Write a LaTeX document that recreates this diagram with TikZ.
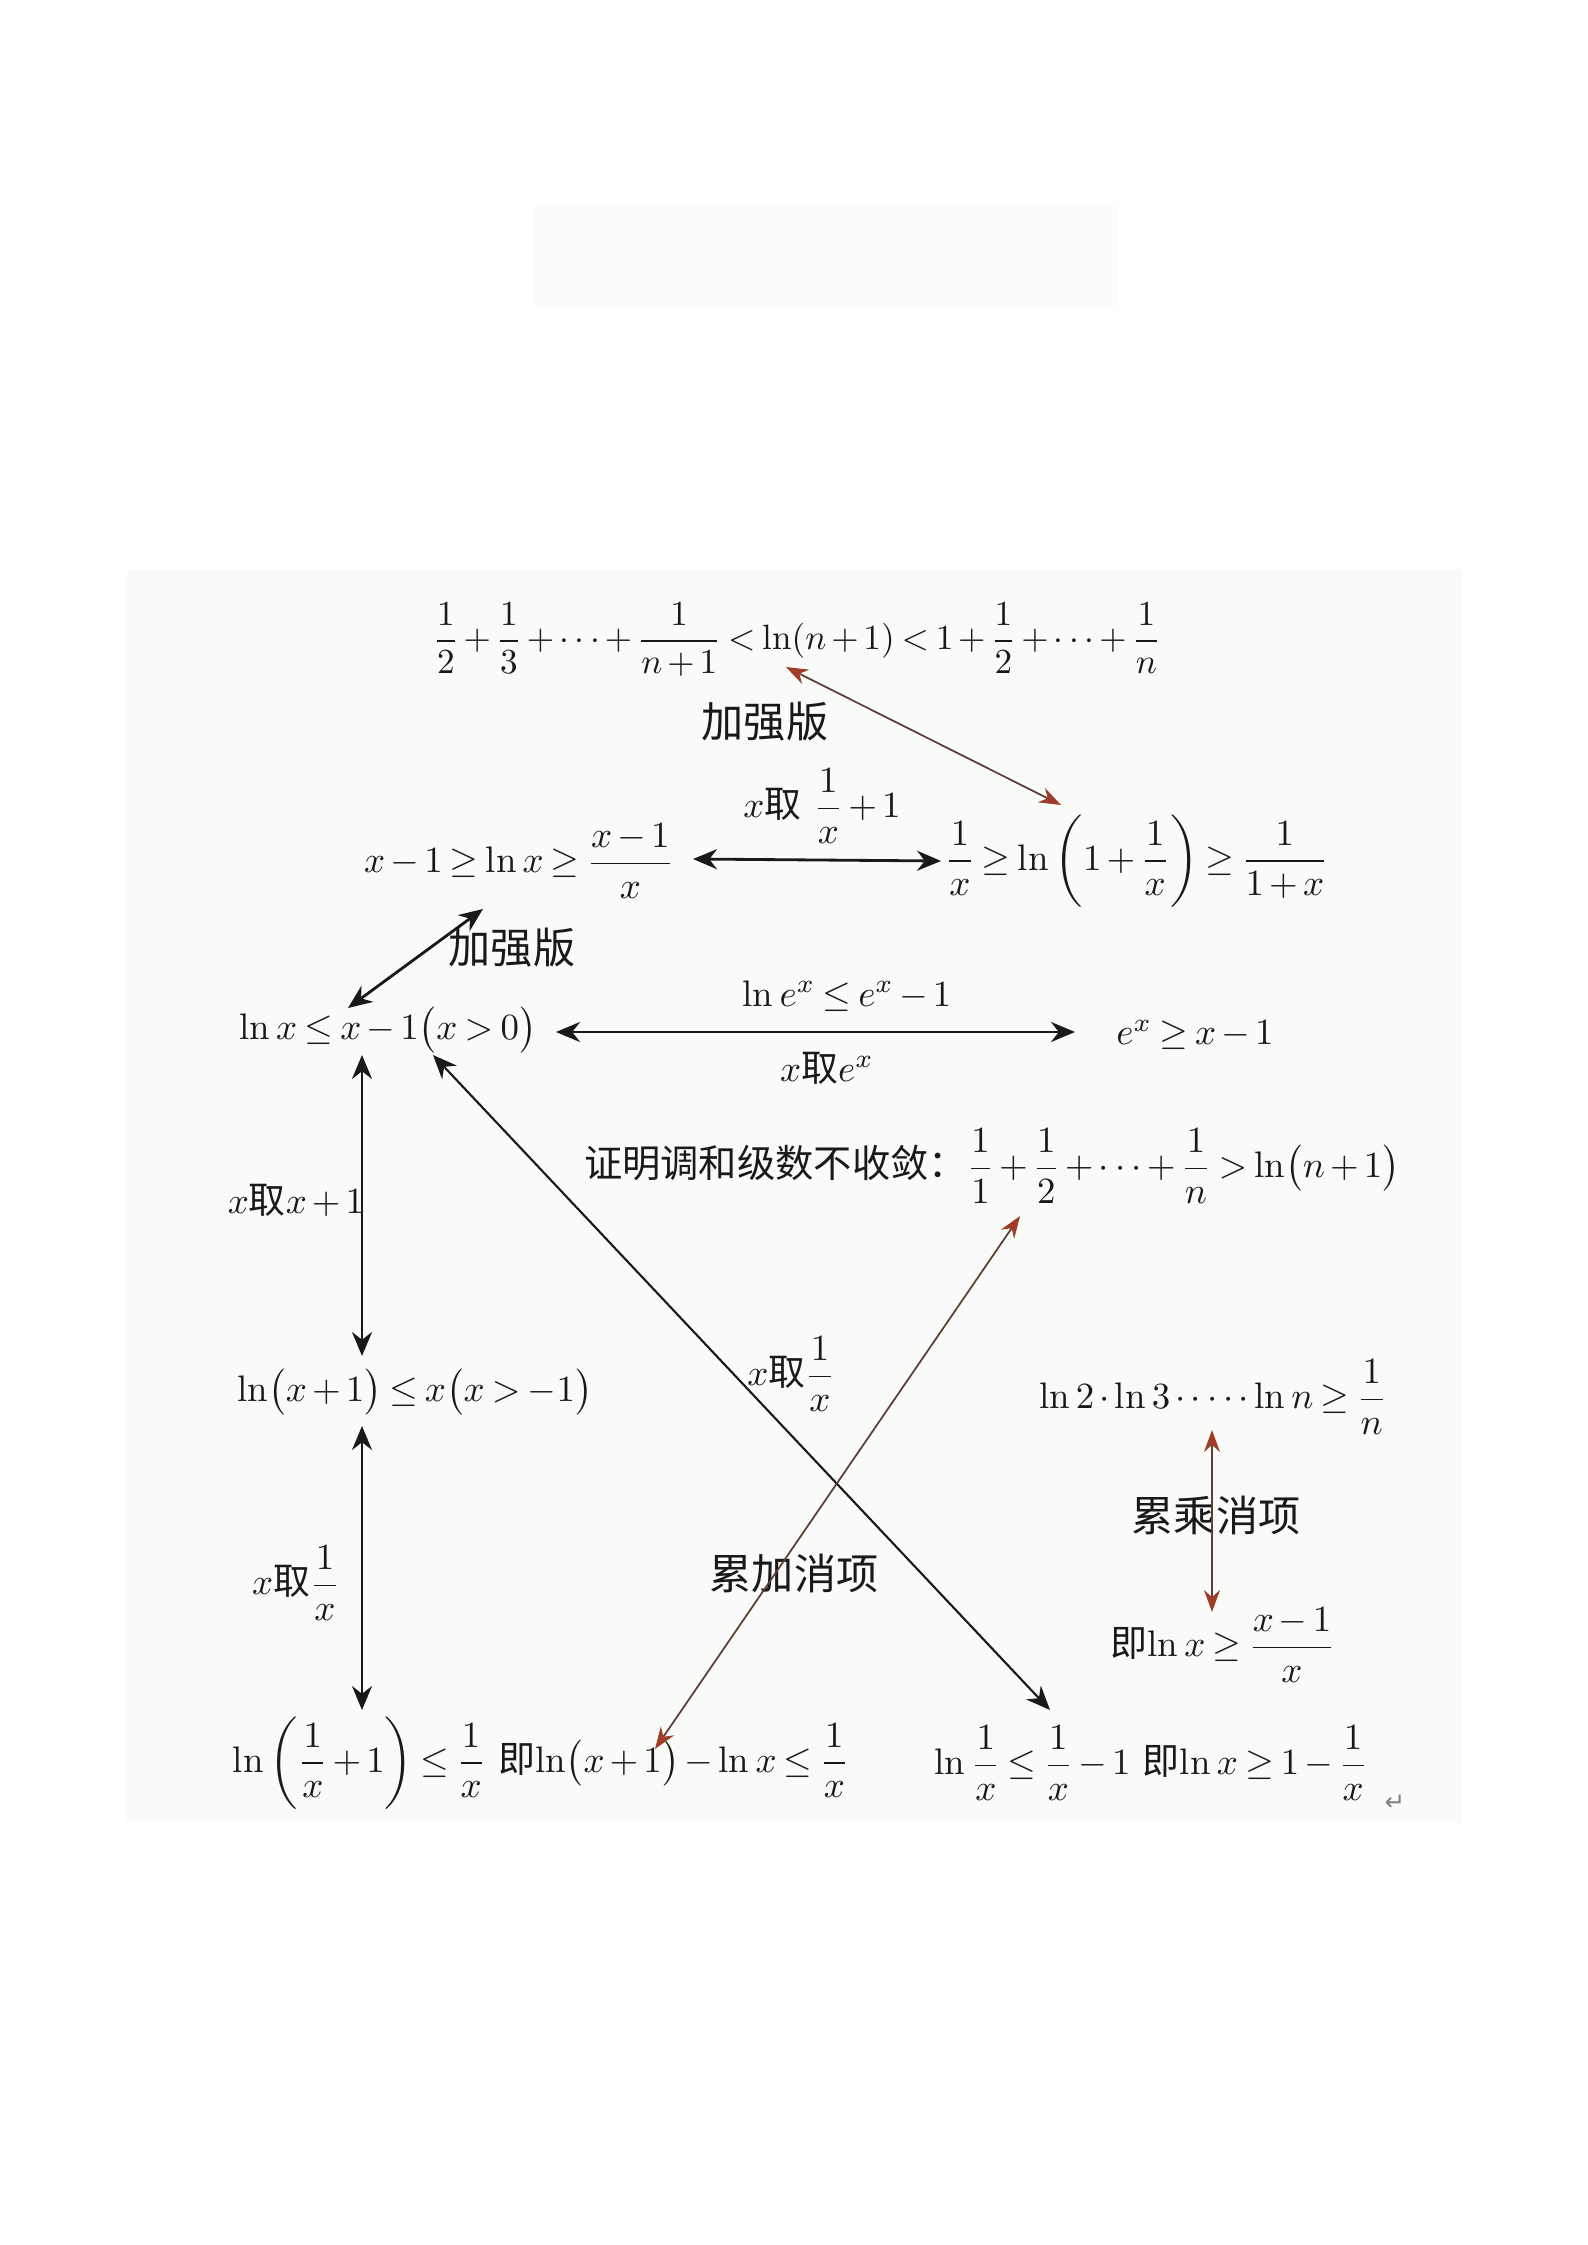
\RequirePackage{fix-cm}
\documentclass[tikz,border=0pt]{standalone}
\usepackage{fontspec}
\usepackage{amsmath}
\newfontfamily\cjk{Noto Sans CJK SC}
\newfontfamily\dejavu{DejaVu Sans}
\usetikzlibrary{arrows.meta,calc}
\definecolor{arrowred}{RGB}{160,60,42}
\definecolor{arrowline}{RGB}{95,62,56}
\definecolor{pagebg}{RGB}{249,251,248}
\definecolor{faintbg}{RGB}{252,252,252}
\definecolor{ink}{RGB}{25,25,25}
\medmuskip=2.5mu plus 1mu minus 1mu
\thickmuskip=3.5mu plus 2mu
\tikzset{
  fml/.style={inner sep=1pt, text=ink, font=\fontsize{10.5}{13}\selectfont},
  zh/.style={inner sep=1pt, text=ink, font=\fontsize{12}{14}\selectfont\cjk},
  blk/.style={draw=ink, line width=0.8pt, {Stealth[length=2.4mm,width=2mm]}-{Stealth[length=2.4mm,width=2mm]}},
  blkthin/.style={draw=ink, line width=0.6pt, {Stealth[length=2.4mm,width=2mm]}-{Stealth[length=2.4mm,width=2mm]}},
  redarr/.style={draw=arrowline, line width=0.5pt, {Stealth[length=2.2mm,width=1.6mm,color=arrowred]}-{Stealth[length=2.2mm,width=1.6mm,color=arrowred]}}
}
\begin{document}
\begin{tikzpicture}[x=0.1mm,y=-0.1mm]
\useasboundingbox[fill=white] (0,0) rectangle (1587,2245);
\fill[faintbg] (534,202) rectangle (1118,310);
\fill[pagebg] (127,570) rectangle (1462,1823);

% nodes
\node[fml, font=\fontsize{10}{12}\selectfont] (top) at (797,640) {$\displaystyle\frac{1}{2}+\frac{1}{3}+\cdots+\frac{1}{n+1}<\ln(n+1)<1+\frac{1}{2}+\cdots+\frac{1}{n}$};
\node[zh] (jq1) at (765,722) {加强版};
\node[fml] (r2l) at (519,861) {$\displaystyle x-1\ge\ln x\ge\frac{x-1}{x}$};
\node[fml] (l2) at (822,806) {$x${\cjk 取}\ $\displaystyle\frac{1}{x}+1$};
\node[fml, anchor=west] (r2r) at (941,861) {$\displaystyle\frac{1}{x}\ge\ln\left(1+\frac{1}{x}\right)\ge\frac{1}{1+x}$};
\node[zh] (jq2) at (512,948) {加强版};
\node[fml] (r3l) at (388,1030) {$\ln x\le x-1\bigl(x>0\bigr)$};
\node[fml] (l3a) at (847,996) {$\ln e^x\le e^x-1$};
\node[fml] (l3b) at (827,1068) {$x${\cjk 取}$e^x$};
\node[fml] (ex) at (1195,1035) {$e^x\ge x-1$};
\node[fml] (l4) at (296,1200) {$x${\cjk 取}$x+1$};
\node[fml] (r4) at (415,1392) {$\ln\bigl(x+1\bigr)\le x\bigl(x>-1\bigr)$};
\node[fml] (l5) at (296,1583) {$x${\cjk 取}$\dfrac{1}{x}$};
\node[fml] (bl) at (541,1763) {$\displaystyle\ln\left(\frac{1}{x}+1\right)\le\frac{1}{x}$ {\cjk 即}$\ln\bigl(x+1\bigr)-\ln x\le\dfrac{1}{x}$};
\node[fml] (harm) at (992,1166) {{\cjk\fontsize{10.9}{12}\selectfont 证明调和级数不收敛：}$\displaystyle\frac{1}{1}+\frac{1}{2}+\cdots+\frac{1}{n}>\ln\bigl(n+1\bigr)$};
\node[fml] (l6) at (791,1374) {$x${\cjk 取}$\dfrac{1}{x}$};
\node[zh] (l7) at (794,1573) {累加消项};
\node[fml] (prod) at (1213,1397) {$\ln 2\cdot\ln 3\cdot\cdots\cdot\ln n\ge\dfrac{1}{n}$};
\node[zh] (l8) at (1216,1515) {累乘消项};
\node[fml] (ji) at (1223,1645) {{\cjk 即}$\ln x\ge\dfrac{x-1}{x}$};
\node[fml] (br) at (1151,1763) {$\ln\dfrac{1}{x}\le\dfrac{1}{x}-1$ {\cjk 即}$\ln x\ge1-\dfrac{1}{x}$};
\node[inner sep=0pt, text=gray, font=\dejavu\fontsize{7}{8}\selectfont] (ret) at (1395,1803) {↵};

% connector end points
\coordinate (topln) at (786,667);
\coordinate (r2rpar) at (1061,805);
\coordinate (r2lR) at (693,859);
\coordinate (r2lln) at (483,909);
\coordinate (r3lx) at (348,1008);
\coordinate (r3lR) at (556,1032);
\coordinate (exL) at (1075,1032);
\coordinate (r3ldown) at (362,1055);
\coordinate (r4up) at (362,1356);
\coordinate (r4down) at (362,1426);
\coordinate (blup) at (362,1710);
\coordinate (r3lpar) at (433,1055);
\coordinate (brup) at (1050,1710);
\coordinate (blone) at (655,1749);
\coordinate (harmfrac) at (1020,1216);
\coordinate (prodbelow) at (1212,1430);
\coordinate (jiabove) at (1212,1612);

% connectors
\draw[redarr] (topln) -- (r2rpar);
\draw[blk] (r2lR) -- (r2r.west);
\draw[blk] (r2lln) -- (r3lx);
\draw[blk] (r3lR) -- (exL);
\draw[blk] (r3ldown) -- (r4up);
\draw[blk] (r4down) -- (blup);
\draw[blkthin] (r3lpar) -- (brup);
\draw[redarr] (blone) -- (harmfrac);
\draw[redarr] (prodbelow) -- (jiabove);
\end{tikzpicture}
\end{document}
